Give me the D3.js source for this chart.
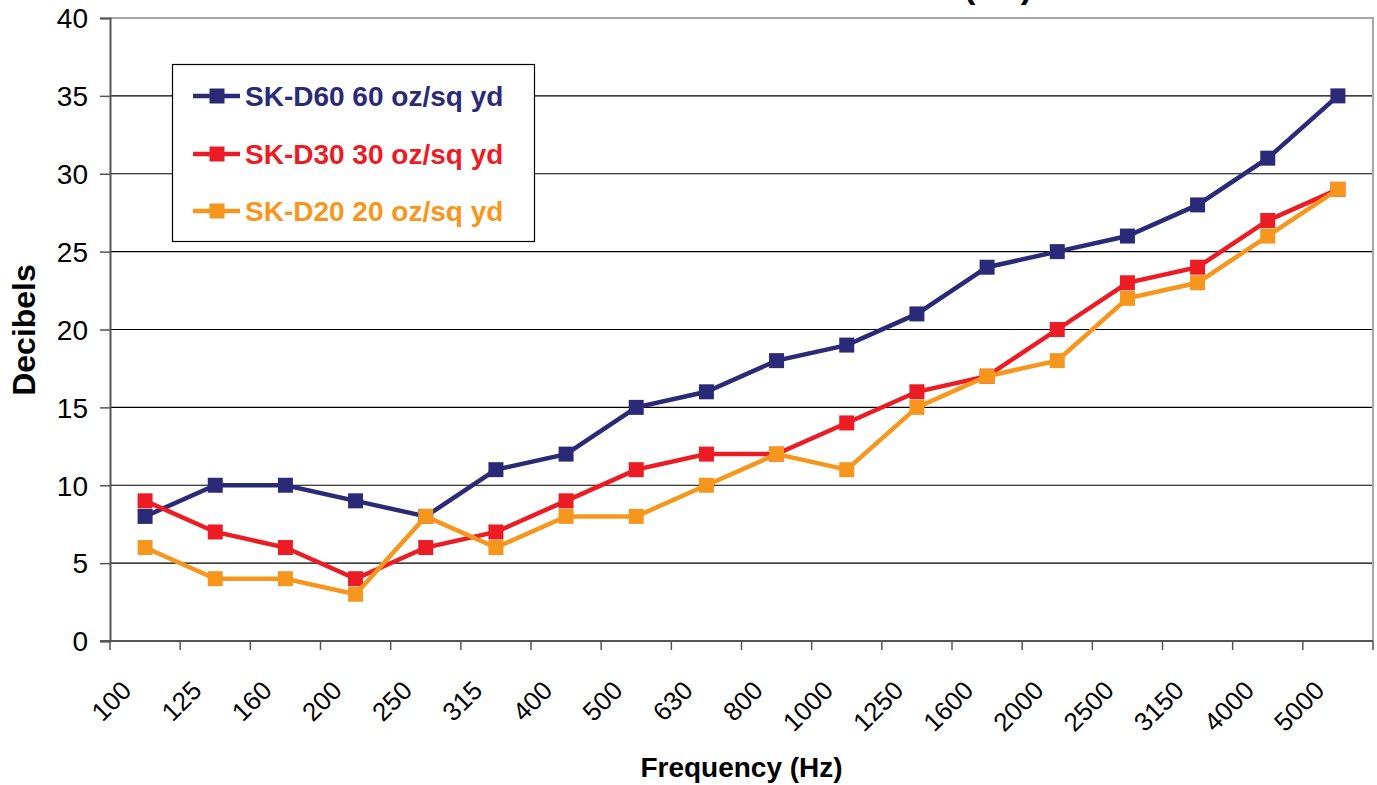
<!DOCTYPE html>
<html>
<head>
<meta charset="utf-8">
<script src="https://cdn.jsdelivr.net/npm/d3@7"></script>
<style>
  body { margin: 0; background: #fff; }
  svg { display: block; font-family: "Liberation Sans", Arial, sans-serif; }
</style>
</head>
<body>
<div id="chart"></div>
<script>
var frequencies = ["100", "125", "160", "200", "250", "315", "400", "500", "630",
                   "800", "1000", "1250", "1600", "2000", "2500", "3150", "4000", "5000"];
var skD60 = [8, 10, 10, 9, 8, 11, 12, 15, 16, 18, 19, 21, 24, 25, 26, 28, 31, 35];
var skD30 = [9, 7, 6, 4, 6, 7, 9, 11, 12, 12, 14, 16, 17, 20, 23, 24, 27, 29];
var skD20 = [6, 4, 4, 3, 8, 6, 8, 8, 10, 12, 11, 15, 17, 18, 22, 23, 26, 29];
var seriesNames = ["SK-D60 60 oz/sq yd", "SK-D30 30 oz/sq yd", "SK-D20 20 oz/sq yd"];
var yTicks = [0, 5, 10, 15, 20, 25, 30, 35, 40];

var series = [
  {name: seriesNames[0], values: skD60, color: "#2b2a78"},
  {name: seriesNames[1], values: skD30, color: "#ec1c24"},
  {name: seriesNames[2], values: skD20, color: "#f7961d"}
];

var W = 1377, H = 785,
    plotLeft = 110, plotRight = 1373, plotTop = 18, plotBottom = 641;

var svg = d3.select("#chart").append("svg")
      .attr("width", W)
      .attr("height", H);

var x = d3.scaleBand()
      .domain(frequencies)
      .range([plotLeft, plotRight])
      .padding(0);

var y = d3.scaleLinear()
      .domain([0, 40])
      .range([plotBottom, plotTop]);

function cx(i) { return x(frequencies[i]) + x.bandwidth() / 2; }

/* title, mostly cut off at the top of the picture */
svg.append("text")
  .attr("x", 1032)
  .attr("y", -2)
  .attr("text-anchor", "end")
  .style("font-size", "34px")
  .style("font-weight", "bold")
  .text("Sound Transmission Loss (dB)");

/* gridlines */
svg.selectAll(".grid")
  .data(yTicks.filter(function(d) { return d > 0 && d < 40; }))
  .enter().append("line")
  .attr("class", "grid")
  .attr("x1", plotLeft).attr("x2", plotRight)
  .attr("y1", function(d) { return y(d); })
  .attr("y2", function(d) { return y(d); })
  .style("stroke", "#000")
  .style("stroke-width", 1.2);

/* plot border top + right */
svg.append("path")
  .attr("d", "M" + plotLeft + "," + y(40) + "H" + plotRight + "V" + plotBottom)
  .style("fill", "none")
  .style("stroke", "#a8a8a8")
  .style("stroke-width", 2);

/* y axis */
var yAxis = svg.append("g")
      .attr("transform", "translate(" + plotLeft + ",0)")
      .call(d3.axisLeft(y).tickValues(yTicks).tickSize(10).tickPadding(12));
yAxis.select(".domain").style("stroke", "#555").style("stroke-width", 2);
yAxis.selectAll(".tick line").style("stroke", "#555").style("stroke-width", 1.5);
yAxis.selectAll(".tick text")
  .style("font-size", "28px")
  .style("font-family", "Liberation Sans, Arial, sans-serif")
  .style("fill", "#000")
  .attr("dy", "0.35em");

/* x axis: ticks on band edges */
svg.append("line")
  .attr("x1", plotLeft - 10).attr("x2", plotRight)
  .attr("y1", plotBottom).attr("y2", plotBottom)
  .style("stroke", "#555")
  .style("stroke-width", 2);

var edges = frequencies.map(function(d) { return x(d); }).concat([plotRight]);
svg.selectAll(".xtick")
  .data(edges)
  .enter().append("line")
  .attr("class", "xtick")
  .attr("x1", function(d) { return d; })
  .attr("x2", function(d) { return d; })
  .attr("y1", plotBottom)
  .attr("y2", plotBottom + 9)
  .style("stroke", "#555")
  .style("stroke-width", 1.5);

svg.selectAll(".xlabel")
  .data(frequencies)
  .enter().append("text")
  .attr("class", "xlabel")
  .attr("transform", function(d) {
    return "translate(" + (x(d) + x.bandwidth() / 2 - 12) + "," + (plotBottom + 51) + ") rotate(-45)";
  })
  .attr("text-anchor", "end")
  .style("font-size", "26px")
  .text(function(d) { return d; });

/* axis titles */
svg.append("text")
  .attr("x", (plotLeft + plotRight) / 2)
  .attr("y", 777)
  .attr("text-anchor", "middle")
  .style("font-size", "28px")
  .style("font-weight", "bold")
  .text("Frequency (Hz)");

svg.append("text")
  .attr("transform", "translate(35,330) rotate(-90)")
  .attr("text-anchor", "middle")
  .style("font-size", "32px")
  .style("font-weight", "bold")
  .text("Decibels");

/* series lines + square markers */
var line = d3.line()
      .x(function(d, i) { return cx(i); })
      .y(function(d) { return y(d); });

var gs = svg.selectAll(".series")
      .data(series)
      .enter().append("g")
      .attr("class", "series");

gs.append("path")
  .attr("d", function(s) { return line(s.values); })
  .style("fill", "none")
  .style("stroke", function(s) { return s.color; })
  .style("stroke-width", 4.5);

gs.each(function(s) {
  d3.select(this).selectAll("rect")
    .data(s.values)
    .enter().append("rect")
    .attr("x", function(d, i) { return cx(i) - 7.5; })
    .attr("y", function(d) { return y(d) - 7.5; })
    .attr("width", 15)
    .attr("height", 15)
    .style("fill", s.color);
});

/* legend */
var lg = svg.append("g");
lg.append("rect")
  .attr("x", 172.5).attr("y", 64.5)
  .attr("width", 362).attr("height", 177)
  .style("fill", "#fff")
  .style("stroke", "#000")
  .style("stroke-width", 1.2);

var entryY = [96, 154, 211];
series.forEach(function(s, i) {
  var yy = entryY[i];
  lg.append("line")
    .attr("x1", 193).attr("x2", 240)
    .attr("y1", yy).attr("y2", yy)
    .style("stroke", s.color)
    .style("stroke-width", 4.5);
  lg.append("rect")
    .attr("x", 209.5).attr("y", yy - 7.5)
    .attr("width", 15).attr("height", 15)
    .style("fill", s.color);
  lg.append("text")
    .attr("x", 245)
    .attr("y", yy + 10)
    .style("font-size", "28px")
    .style("font-weight", "bold")
    .style("fill", s.color)
    .text(s.name);
});
</script>
</body>
</html>
